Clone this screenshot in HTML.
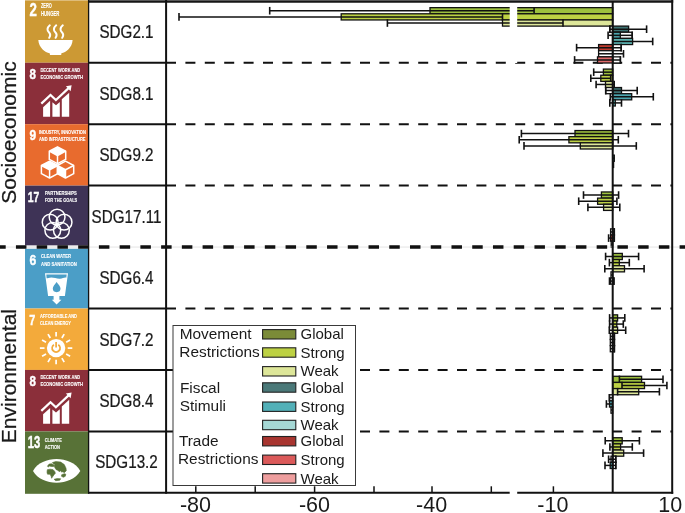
<!DOCTYPE html>
<html><head><meta charset="utf-8"><style>
html,body{margin:0;padding:0;background:#fff;}
svg{display:block;will-change:transform;}
text{font-family:"Liberation Sans",sans-serif;}
.d text{stroke:#1a1a1a;stroke-width:0.25px;}
</style></head><body>
<svg width="685" height="513" viewBox="0 0 685 513">
<rect width="685" height="513" fill="#fff"/><g fill="#1a1a1a">
<rect x="25" y="0.00" width="63" height="62.74" fill="#CC9934"/>
<rect x="25" y="0" width="63" height="0.7" fill="#fff" fill-opacity="0.5"/>
<g fill="#fff"><text x="29.47" y="15.80" font-size="18.59" font-weight="bold" textLength="7.37" lengthAdjust="spacingAndGlyphs" stroke="#fff" stroke-width="0.45">2</text><text x="40.96" y="7.90" font-size="6.62" font-weight="bold" textLength="10.88" lengthAdjust="spacingAndGlyphs" stroke="#fff" stroke-width="0.12">ZERO</text><text x="40.96" y="15.80" font-size="6.62" font-weight="bold" textLength="18.48" lengthAdjust="spacingAndGlyphs" stroke="#fff" stroke-width="0.12">HUNGER</text></g>
<g transform="translate(25 0.00)"><path d="M13.3 40 H47.6 C47.2 47.5 41 52.6 36.4 53.2 L36.2 55 H25 L24.7 53.2 C20 52.6 13.8 47.5 13.3 40 Z" fill="#fff"/><g fill="none" stroke="#fff" stroke-width="2" stroke-linecap="round"><path d="M24.8 25.3 C21.8 28 22.0 30.5 23.9 32.3 C25.7 34 25.4 36 24.2 37.8"/><path d="M31.200000000000003 25.3 C28.200000000000003 28 28.400000000000002 30.5 30.3 32.3 C32.1 34 31.8 36 30.6 37.8"/><path d="M37.800000000000004 25.3 C34.800000000000004 28 35.0 30.5 36.900000000000006 32.3 C38.7 34 38.400000000000006 36 37.2 37.8"/></g></g>
<rect x="25" y="62.74" width="63" height="61.44" fill="#8B2F3A"/>
<g fill="#fff"><text x="29.57" y="78.90" font-size="15.21" font-weight="bold" textLength="6.46" lengthAdjust="spacingAndGlyphs" stroke="#fff" stroke-width="0.45">8</text><text x="40.40" y="72.30" font-size="5.35" font-weight="bold" textLength="39.80" lengthAdjust="spacingAndGlyphs" stroke="#fff" stroke-width="0.12">DECENT WORK AND</text><text x="40.38" y="79.20" font-size="5.92" font-weight="bold" textLength="42.73" lengthAdjust="spacingAndGlyphs" stroke="#fff" stroke-width="0.12">ECONOMIC GROWTH</text></g>
<g transform="translate(25 62.74)"><g fill="#fff"><path d="M18.1 44.4 L25.1 38.1 V53.9 H18.1 Z"/><path d="M27.4 39.6 L31 42.6 L34.8 39.2 V53.9 H27.4 Z"/><path d="M36.8 36.6 L44.2 29.9 V53.9 H36.8 Z"/><path d="M40.9 23.6 L46.6 22.6 L45.6 28.4 Z"/></g><path d="M16.3 40.9 L25.5 32.2 L30.9 37.3 L43.6 25.4" fill="none" stroke="#fff" stroke-width="2.2"/></g>
<rect x="25" y="124.18" width="63" height="61.44" fill="#E86B2E"/>
<g fill="#fff"><text x="29.56" y="140.40" font-size="15.35" font-weight="bold" textLength="6.67" lengthAdjust="spacingAndGlyphs" stroke="#fff" stroke-width="0.45">9</text><text x="38.99" y="133.60" font-size="5.77" font-weight="bold" textLength="46.83" lengthAdjust="spacingAndGlyphs" stroke="#fff" stroke-width="0.12">INDUSTRY, INNOVATION</text><text x="38.98" y="140.60" font-size="6.06" font-weight="bold" textLength="46.44" lengthAdjust="spacingAndGlyphs" stroke="#fff" stroke-width="0.12">AND INFRASTRUCTURE</text></g>
<g transform="translate(25 124.18)"><polygon points="32.50,22.70 40.70,27.00 32.50,31.30 24.30,27.00" fill="#fff"/><polygon points="24.60,37.00 32.80,41.30 24.60,45.60 16.40,41.30" fill="#fff"/><polygon points="32.30,41.30 40.50,45.60 40.50,53.80 32.30,49.50" fill="#fff"/><g fill="none" stroke="#fff" stroke-width="1.5" stroke-linejoin="round"><polygon points="32.50,22.70 40.70,27.00 40.70,35.20 32.50,39.50 24.30,35.20 24.30,27.00"/><polyline points="24.30,27.00 32.50,31.30 40.70,27.00"/><polyline points="32.50,31.30 32.50,39.50"/><polygon points="24.60,37.00 32.80,41.30 32.80,49.50 24.60,53.80 16.40,49.50 16.40,41.30"/><polyline points="16.40,41.30 24.60,45.60 32.80,41.30"/><polyline points="24.60,45.60 24.60,53.80"/><polygon points="40.50,37.00 48.70,41.30 48.70,49.50 40.50,53.80 32.30,49.50 32.30,41.30"/><polyline points="32.30,41.30 40.50,45.60 48.70,41.30"/><polyline points="40.50,45.60 40.50,53.80"/></g></g>
<rect x="25" y="185.62" width="63" height="61.44" fill="#3E3356"/>
<g fill="#fff"><text x="27.77" y="201.90" font-size="15.21" font-weight="bold" textLength="11.56" lengthAdjust="spacingAndGlyphs" stroke="#fff" stroke-width="0.45">17</text><text x="44.89" y="195.30" font-size="5.63" font-weight="bold" textLength="31.92" lengthAdjust="spacingAndGlyphs" stroke="#fff" stroke-width="0.12">PARTNERSHIPS</text><text x="44.90" y="202.20" font-size="5.49" font-weight="bold" textLength="32.31" lengthAdjust="spacingAndGlyphs" stroke="#fff" stroke-width="0.12">FOR THE GOALS</text></g>
<g transform="translate(25 185.62)"><g fill="none" stroke="#fff" stroke-width="1.5"><circle cx="32.10" cy="31.50" r="7.9"/><circle cx="39.04" cy="36.54" r="7.9"/><circle cx="36.39" cy="44.71" r="7.9"/><circle cx="27.81" cy="44.71" r="7.9"/><circle cx="25.16" cy="36.54" r="7.9"/></g></g>
<rect x="25" y="247.06" width="63" height="61.44" fill="#4B9EC7"/>
<g fill="#fff"><text x="29.57" y="264.80" font-size="15.21" font-weight="bold" textLength="6.76" lengthAdjust="spacingAndGlyphs" stroke="#fff" stroke-width="0.45">6</text><text x="41.09" y="258.20" font-size="5.63" font-weight="bold" textLength="29.82" lengthAdjust="spacingAndGlyphs" stroke="#fff" stroke-width="0.12">CLEAN WATER</text><text x="41.08" y="265.70" font-size="5.92" font-weight="bold" textLength="35.73" lengthAdjust="spacingAndGlyphs" stroke="#fff" stroke-width="0.12">AND SANITATION</text></g>
<g transform="translate(25 247.36)"><path d="M20 26 H43 L39.9 48.6 H34.4 V52.5 H36.4 L31.6 57.2 L26.8 52.5 H28.6 V48.6 H23.1 Z" fill="#fff"/><path d="M21.3 27.1 H41.7 L41.3 30.3 C39 29.8 37.5 31.6 34.5 31.4 C31.5 31.2 29 30.1 26.3 30.1 C24 30.1 22.8 31 21.6 31 Z" fill="#4B9EC7"/><path d="M31.6 34.6 C30 37 27.8 39 27.8 41 A3.85 3.85 0 0 0 35.5 41 C35.5 39 33.2 37 31.6 34.6 Z" fill="#4B9EC7"/></g>
<rect x="25" y="308.50" width="63" height="61.44" fill="#F3AA3B"/>
<g fill="#fff"><text x="29.17" y="324.90" font-size="15.21" font-weight="bold" textLength="6.06" lengthAdjust="spacingAndGlyphs" stroke="#fff" stroke-width="0.45">7</text><text x="39.90" y="318.00" font-size="5.21" font-weight="bold" textLength="37.09" lengthAdjust="spacingAndGlyphs" stroke="#fff" stroke-width="0.12">AFFORDABLE AND</text><text x="39.91" y="324.90" font-size="5.07" font-weight="bold" textLength="30.98" lengthAdjust="spacingAndGlyphs" stroke="#fff" stroke-width="0.12">CLEAN ENERGY</text></g>
<g transform="translate(25 308.50)"><g transform="translate(31.1 39.6)"><circle r="9.2" fill="#fff"/><path d="M-2.2 -3.4 A4.0 4.0 0 1 0 2.2 -3.4" fill="none" stroke="#F3AA3B" stroke-width="1.7"/><line x1="0" y1="-6.2" x2="0" y2="-0.6" stroke="#F3AA3B" stroke-width="1.7"/><g stroke="#fff" stroke-width="1.7"><line x1="0.00" y1="-11.60" x2="0.00" y2="-16.20"/><line x1="5.80" y1="-10.05" x2="8.10" y2="-14.03"/><line x1="10.05" y1="-5.80" x2="14.03" y2="-8.10"/><line x1="11.60" y1="-0.00" x2="16.20" y2="-0.00"/><line x1="10.05" y1="5.80" x2="14.03" y2="8.10"/><line x1="5.80" y1="10.05" x2="8.10" y2="14.03"/><line x1="0.00" y1="11.60" x2="0.00" y2="16.20"/><line x1="-5.80" y1="10.05" x2="-8.10" y2="14.03"/><line x1="-10.05" y1="5.80" x2="-14.03" y2="8.10"/><line x1="-11.60" y1="0.00" x2="-16.20" y2="0.00"/><line x1="-10.05" y1="-5.80" x2="-14.03" y2="-8.10"/><line x1="-5.80" y1="-10.05" x2="-8.10" y2="-14.03"/></g></g></g>
<rect x="25" y="369.94" width="63" height="61.44" fill="#8B2F3A"/>
<g fill="#fff"><text x="29.57" y="385.90" font-size="15.21" font-weight="bold" textLength="6.46" lengthAdjust="spacingAndGlyphs" stroke="#fff" stroke-width="0.45">8</text><text x="40.39" y="379.30" font-size="5.63" font-weight="bold" textLength="39.82" lengthAdjust="spacingAndGlyphs" stroke="#fff" stroke-width="0.12">DECENT WORK AND</text><text x="40.38" y="386.20" font-size="5.92" font-weight="bold" textLength="42.73" lengthAdjust="spacingAndGlyphs" stroke="#fff" stroke-width="0.12">ECONOMIC GROWTH</text></g>
<g transform="translate(25 369.94)"><g fill="#fff"><path d="M18.1 44.4 L25.1 38.1 V53.9 H18.1 Z"/><path d="M27.4 39.6 L31 42.6 L34.8 39.2 V53.9 H27.4 Z"/><path d="M36.8 36.6 L44.2 29.9 V53.9 H36.8 Z"/><path d="M40.9 23.6 L46.6 22.6 L45.6 28.4 Z"/></g><path d="M16.3 40.9 L25.5 32.2 L30.9 37.3 L43.6 25.4" fill="none" stroke="#fff" stroke-width="2.2"/></g>
<rect x="25" y="431.38" width="63" height="62.42" fill="#587237"/>
<g fill="#fff"><text x="27.75" y="448.40" font-size="15.92" font-weight="bold" textLength="12.50" lengthAdjust="spacingAndGlyphs" stroke="#fff" stroke-width="0.45">13</text><text x="44.69" y="441.60" font-size="5.77" font-weight="bold" textLength="17.13" lengthAdjust="spacingAndGlyphs" stroke="#fff" stroke-width="0.12">CLIMATE</text><text x="44.68" y="448.60" font-size="6.06" font-weight="bold" textLength="15.34" lengthAdjust="spacingAndGlyphs" stroke="#fff" stroke-width="0.12">ACTION</text></g>
<g transform="translate(25 431.38)"><path d="M8 39.5 C17 23.8 46 23.8 55.3 39.5 C46 55.2 17 55.2 8 39.5 Z" fill="#fff"/><g fill="#587237"><polygon points="27.4,31.2 30.7,30.2 35.7,30.7 39.3,33.2 41.0,36.8 41.3,39.3 39.3,41.3 37.8,40.3 36.7,40.8 35.7,39.3 34.2,40.3 32.7,38.8 31.2,38.3 30.2,36.8 29.1,34.7 29.9,33.2 28.1,32.2" stroke="#587237" stroke-width="0.6" stroke-linejoin="round"/><polygon points="24.1,32.7 26.6,32.4 29.1,33.7 28.6,35.2 26.1,35.0 24.6,34.7 23.1,35.7 22.5,34.7" stroke="#587237" stroke-width="0.6" stroke-linejoin="round"/><polygon points="22.3,38.3 25.1,37.8 28.1,38.3 29.6,39.8 30.4,41.8 29.1,43.3 27.6,45.4 26.6,46.9 26.1,44.9 25.1,42.8 22.5,42.8 22.0,40.8" stroke="#587237" stroke-width="0.6" stroke-linejoin="round"/><polygon points="36.7,43.3 39.3,42.3 40.8,42.8 40.3,44.9 38.3,45.9 36.5,44.9" stroke="#587237" stroke-width="0.6" stroke-linejoin="round"/><polygon points="29.1,47.9 32.2,47.2 35.7,47.4 34.7,48.9 30.7,49.3" stroke="#587237" stroke-width="0.6" stroke-linejoin="round"/></g></g>
<g class="d"><text transform="translate(15.8 132.5) rotate(-90)" font-size="21" text-anchor="middle">Socioeconomic</text>
<text transform="translate(15.7 376.1) rotate(-90)" font-size="21" text-anchor="middle">Environmental</text>
<text x="126.5" y="38.4" font-size="18" text-anchor="middle" transform="translate(126.5 0) scale(0.845 1) translate(-126.5 0)">SDG2.1</text>
<text x="126.5" y="99.9" font-size="18" text-anchor="middle" transform="translate(126.5 0) scale(0.845 1) translate(-126.5 0)">SDG8.1</text>
<text x="126.5" y="161.3" font-size="18" text-anchor="middle" transform="translate(126.5 0) scale(0.845 1) translate(-126.5 0)">SDG9.2</text>
<text x="126.5" y="222.7" font-size="18" text-anchor="middle" transform="translate(126.5 0) scale(0.845 1) translate(-126.5 0)">SDG17.11</text>
<text x="126.5" y="284.2" font-size="18" text-anchor="middle" transform="translate(126.5 0) scale(0.845 1) translate(-126.5 0)">SDG6.4</text>
<text x="126.5" y="345.6" font-size="18" text-anchor="middle" transform="translate(126.5 0) scale(0.845 1) translate(-126.5 0)">SDG7.2</text>
<text x="126.5" y="407.1" font-size="18" text-anchor="middle" transform="translate(126.5 0) scale(0.845 1) translate(-126.5 0)">SDG8.4</text>
<text x="126.5" y="468.5" font-size="18" text-anchor="middle" transform="translate(126.5 0) scale(0.845 1) translate(-126.5 0)">SDG13.2</text></g>
<line x1="88" y1="62.74" x2="166" y2="62.74" stroke="#111" stroke-width="2"/>
<line x1="166" y1="62.74" x2="672" y2="62.74" stroke="#111" stroke-width="2" stroke-dasharray="10 9.4"/>
<line x1="88" y1="124.18" x2="166" y2="124.18" stroke="#111" stroke-width="2"/>
<line x1="166" y1="124.18" x2="672" y2="124.18" stroke="#111" stroke-width="2" stroke-dasharray="10 9.4"/>
<line x1="88" y1="185.62" x2="166" y2="185.62" stroke="#111" stroke-width="2"/>
<line x1="166" y1="185.62" x2="672" y2="185.62" stroke="#111" stroke-width="2" stroke-dasharray="10 9.4"/>
<line x1="88" y1="308.50" x2="166" y2="308.50" stroke="#111" stroke-width="2"/>
<line x1="166" y1="308.50" x2="672" y2="308.50" stroke="#111" stroke-width="2" stroke-dasharray="10 9.4"/>
<line x1="88" y1="369.94" x2="166" y2="369.94" stroke="#111" stroke-width="2"/>
<line x1="166" y1="369.94" x2="672" y2="369.94" stroke="#111" stroke-width="2" stroke-dasharray="10 9.4"/>
<line x1="88" y1="431.38" x2="166" y2="431.38" stroke="#111" stroke-width="2"/>
<line x1="166" y1="431.38" x2="672" y2="431.38" stroke="#111" stroke-width="2" stroke-dasharray="10 9.4"/>
<rect x="430.00" y="7.65" width="182.70" height="6.15" fill="#9DC03E" stroke="#111" stroke-width="1.3"/>
<line x1="269.70" y1="10.72" x2="534.10" y2="10.72" stroke="#111" stroke-width="1.5"/>
<line x1="269.70" y1="6.92" x2="269.70" y2="14.52" stroke="#111" stroke-width="1.6"/>
<line x1="534.10" y1="6.92" x2="534.10" y2="14.52" stroke="#111" stroke-width="1.6"/>
<rect x="341.20" y="13.80" width="271.50" height="6.15" fill="#BDD143" stroke="#111" stroke-width="1.3"/>
<line x1="179.00" y1="16.88" x2="502.50" y2="16.88" stroke="#111" stroke-width="1.5"/>
<line x1="179.00" y1="13.07" x2="179.00" y2="20.68" stroke="#111" stroke-width="1.6"/>
<line x1="502.50" y1="13.07" x2="502.50" y2="20.68" stroke="#111" stroke-width="1.6"/>
<rect x="502.50" y="19.95" width="110.20" height="6.15" fill="#DDE699" stroke="#111" stroke-width="1.3"/>
<line x1="387.40" y1="23.02" x2="563.00" y2="23.02" stroke="#111" stroke-width="1.5"/>
<line x1="387.40" y1="19.22" x2="387.40" y2="26.82" stroke="#111" stroke-width="1.6"/>
<line x1="563.00" y1="19.22" x2="563.00" y2="26.82" stroke="#111" stroke-width="1.6"/>
<rect x="609.80" y="26.10" width="2.90" height="6.15" fill="#fff" stroke="#111" stroke-width="1.3"/>
<rect x="612.70" y="26.10" width="15.90" height="6.15" fill="#3D7272" stroke="#111" stroke-width="1.3"/>
<line x1="609.80" y1="29.18" x2="646.60" y2="29.18" stroke="#111" stroke-width="1.5"/>
<line x1="609.80" y1="25.38" x2="609.80" y2="32.98" stroke="#111" stroke-width="1.6"/>
<line x1="646.60" y1="25.38" x2="646.60" y2="32.98" stroke="#111" stroke-width="1.6"/>
<rect x="612.70" y="32.25" width="19.50" height="6.15" fill="#fff" stroke="#111" stroke-width="1.3"/>
<rect x="612.70" y="32.25" width="7.60" height="6.15" fill="#4BA5AE" stroke="#111" stroke-width="1.3"/>
<line x1="608.10" y1="35.33" x2="632.20" y2="35.33" stroke="#111" stroke-width="1.5"/>
<line x1="608.10" y1="31.53" x2="608.10" y2="39.12" stroke="#111" stroke-width="1.6"/>
<line x1="632.20" y1="31.53" x2="632.20" y2="39.12" stroke="#111" stroke-width="1.6"/>
<rect x="612.70" y="38.40" width="19.90" height="6.15" fill="#5EBAB8" stroke="#111" stroke-width="1.3"/>
<line x1="612.70" y1="41.48" x2="652.70" y2="41.48" stroke="#111" stroke-width="1.5"/>
<line x1="652.70" y1="37.68" x2="652.70" y2="45.27" stroke="#111" stroke-width="1.6"/>
<rect x="612.70" y="44.55" width="8.50" height="6.15" fill="#fff" stroke="#111" stroke-width="1.3"/>
<rect x="598.60" y="44.55" width="14.10" height="6.15" fill="#BE3A2E" stroke="#111" stroke-width="1.3"/>
<line x1="576.60" y1="47.63" x2="621.20" y2="47.63" stroke="#111" stroke-width="1.5"/>
<line x1="576.60" y1="43.83" x2="576.60" y2="51.43" stroke="#111" stroke-width="1.6"/>
<line x1="621.20" y1="43.83" x2="621.20" y2="51.43" stroke="#111" stroke-width="1.6"/>
<rect x="598.60" y="50.70" width="14.10" height="6.15" fill="#FFFFFF" stroke="#111" stroke-width="1.3"/>
<line x1="598.60" y1="53.78" x2="623.50" y2="53.78" stroke="#111" stroke-width="1.5"/>
<line x1="623.50" y1="49.98" x2="623.50" y2="57.58" stroke="#111" stroke-width="1.6"/>
<rect x="612.70" y="56.85" width="7.70" height="6.15" fill="#fff" stroke="#111" stroke-width="1.3"/>
<rect x="597.50" y="56.85" width="15.20" height="6.15" fill="#E06B6B" stroke="#111" stroke-width="1.3"/>
<line x1="574.60" y1="59.93" x2="620.40" y2="59.93" stroke="#111" stroke-width="1.5"/>
<line x1="574.60" y1="56.13" x2="574.60" y2="63.73" stroke="#111" stroke-width="1.6"/>
<line x1="620.40" y1="56.13" x2="620.40" y2="63.73" stroke="#111" stroke-width="1.6"/>
<rect x="603.40" y="69.09" width="9.30" height="6.15" fill="#9DC03E" stroke="#111" stroke-width="1.3"/>
<line x1="593.70" y1="72.16" x2="612.70" y2="72.16" stroke="#111" stroke-width="1.5"/>
<line x1="593.70" y1="68.36" x2="593.70" y2="75.96" stroke="#111" stroke-width="1.6"/>
<rect x="600.80" y="75.24" width="11.90" height="6.15" fill="#BDD143" stroke="#111" stroke-width="1.3"/>
<line x1="590.80" y1="78.31" x2="610.70" y2="78.31" stroke="#111" stroke-width="1.5"/>
<line x1="590.80" y1="74.52" x2="590.80" y2="82.11" stroke="#111" stroke-width="1.6"/>
<line x1="610.70" y1="74.52" x2="610.70" y2="82.11" stroke="#111" stroke-width="1.6"/>
<rect x="605.50" y="81.39" width="7.20" height="6.15" fill="#DDE699" stroke="#111" stroke-width="1.3"/>
<line x1="596.10" y1="84.46" x2="614.20" y2="84.46" stroke="#111" stroke-width="1.5"/>
<line x1="596.10" y1="80.66" x2="596.10" y2="88.26" stroke="#111" stroke-width="1.6"/>
<line x1="614.20" y1="80.66" x2="614.20" y2="88.26" stroke="#111" stroke-width="1.6"/>
<rect x="605.70" y="87.54" width="7.00" height="6.15" fill="#fff" stroke="#111" stroke-width="1.3"/>
<rect x="612.70" y="87.54" width="8.80" height="6.15" fill="#3D7272" stroke="#111" stroke-width="1.3"/>
<line x1="605.70" y1="90.61" x2="637.20" y2="90.61" stroke="#111" stroke-width="1.5"/>
<line x1="605.70" y1="86.81" x2="605.70" y2="94.41" stroke="#111" stroke-width="1.6"/>
<line x1="637.20" y1="86.81" x2="637.20" y2="94.41" stroke="#111" stroke-width="1.6"/>
<rect x="612.70" y="93.69" width="19.00" height="6.15" fill="#4BA5AE" stroke="#111" stroke-width="1.3"/>
<line x1="610.30" y1="96.77" x2="653.30" y2="96.77" stroke="#111" stroke-width="1.5"/>
<line x1="610.30" y1="92.97" x2="610.30" y2="100.56" stroke="#111" stroke-width="1.6"/>
<line x1="653.30" y1="92.97" x2="653.30" y2="100.56" stroke="#111" stroke-width="1.6"/>
<rect x="612.70" y="99.84" width="2.60" height="6.15" fill="#5EBAB8" stroke="#111" stroke-width="1.3"/>
<line x1="609.80" y1="102.91" x2="621.50" y2="102.91" stroke="#111" stroke-width="1.5"/>
<line x1="609.80" y1="99.11" x2="609.80" y2="106.71" stroke="#111" stroke-width="1.6"/>
<line x1="621.50" y1="99.11" x2="621.50" y2="106.71" stroke="#111" stroke-width="1.6"/>
<rect x="575.00" y="130.53" width="37.70" height="6.15" fill="#9DC03E" stroke="#111" stroke-width="1.3"/>
<line x1="521.40" y1="133.60" x2="628.50" y2="133.60" stroke="#111" stroke-width="1.5"/>
<line x1="521.40" y1="129.80" x2="521.40" y2="137.41" stroke="#111" stroke-width="1.6"/>
<line x1="628.50" y1="129.80" x2="628.50" y2="137.41" stroke="#111" stroke-width="1.6"/>
<rect x="568.90" y="136.68" width="43.80" height="6.15" fill="#BDD143" stroke="#111" stroke-width="1.3"/>
<line x1="519.20" y1="139.75" x2="618.30" y2="139.75" stroke="#111" stroke-width="1.5"/>
<line x1="519.20" y1="135.95" x2="519.20" y2="143.56" stroke="#111" stroke-width="1.6"/>
<line x1="618.30" y1="135.95" x2="618.30" y2="143.56" stroke="#111" stroke-width="1.6"/>
<rect x="580.30" y="142.83" width="32.40" height="6.15" fill="#DDE699" stroke="#111" stroke-width="1.3"/>
<line x1="524.00" y1="145.91" x2="636.30" y2="145.91" stroke="#111" stroke-width="1.5"/>
<line x1="524.00" y1="142.10" x2="524.00" y2="149.71" stroke="#111" stroke-width="1.6"/>
<line x1="636.30" y1="142.10" x2="636.30" y2="149.71" stroke="#111" stroke-width="1.6"/>
<rect x="601.40" y="191.97" width="11.30" height="6.15" fill="#9DC03E" stroke="#111" stroke-width="1.3"/>
<line x1="583.50" y1="195.04" x2="618.60" y2="195.04" stroke="#111" stroke-width="1.5"/>
<line x1="583.50" y1="191.24" x2="583.50" y2="198.84" stroke="#111" stroke-width="1.6"/>
<line x1="618.60" y1="191.24" x2="618.60" y2="198.84" stroke="#111" stroke-width="1.6"/>
<rect x="597.60" y="198.12" width="15.10" height="6.15" fill="#BDD143" stroke="#111" stroke-width="1.3"/>
<line x1="578.70" y1="201.19" x2="616.90" y2="201.19" stroke="#111" stroke-width="1.5"/>
<line x1="578.70" y1="197.39" x2="578.70" y2="205.00" stroke="#111" stroke-width="1.6"/>
<line x1="616.90" y1="197.39" x2="616.90" y2="205.00" stroke="#111" stroke-width="1.6"/>
<rect x="603.60" y="204.27" width="9.10" height="6.15" fill="#DDE699" stroke="#111" stroke-width="1.3"/>
<line x1="587.90" y1="207.34" x2="619.80" y2="207.34" stroke="#111" stroke-width="1.5"/>
<line x1="587.90" y1="203.54" x2="587.90" y2="211.15" stroke="#111" stroke-width="1.6"/>
<line x1="619.80" y1="203.54" x2="619.80" y2="211.15" stroke="#111" stroke-width="1.6"/>
<rect x="612.70" y="253.41" width="9.60" height="6.15" fill="#9DC03E" stroke="#111" stroke-width="1.3"/>
<line x1="605.60" y1="256.49" x2="638.60" y2="256.49" stroke="#111" stroke-width="1.5"/>
<line x1="605.60" y1="252.69" x2="605.60" y2="260.29" stroke="#111" stroke-width="1.6"/>
<line x1="638.60" y1="252.69" x2="638.60" y2="260.29" stroke="#111" stroke-width="1.6"/>
<rect x="612.70" y="259.56" width="6.60" height="6.15" fill="#BDD143" stroke="#111" stroke-width="1.3"/>
<line x1="609.40" y1="262.63" x2="629.30" y2="262.63" stroke="#111" stroke-width="1.5"/>
<line x1="609.40" y1="258.83" x2="609.40" y2="266.44" stroke="#111" stroke-width="1.6"/>
<line x1="629.30" y1="258.83" x2="629.30" y2="266.44" stroke="#111" stroke-width="1.6"/>
<rect x="612.70" y="265.71" width="11.80" height="6.15" fill="#DDE699" stroke="#111" stroke-width="1.3"/>
<line x1="604.80" y1="268.78" x2="644.10" y2="268.78" stroke="#111" stroke-width="1.5"/>
<line x1="604.80" y1="264.98" x2="604.80" y2="272.58" stroke="#111" stroke-width="1.6"/>
<line x1="644.10" y1="264.98" x2="644.10" y2="272.58" stroke="#111" stroke-width="1.6"/>
<rect x="612.70" y="314.85" width="4.90" height="6.15" fill="#9DC03E" stroke="#111" stroke-width="1.3"/>
<line x1="609.60" y1="317.93" x2="624.80" y2="317.93" stroke="#111" stroke-width="1.5"/>
<line x1="609.60" y1="314.12" x2="609.60" y2="321.73" stroke="#111" stroke-width="1.6"/>
<line x1="624.80" y1="314.12" x2="624.80" y2="321.73" stroke="#111" stroke-width="1.6"/>
<rect x="612.70" y="321.00" width="4.10" height="6.15" fill="#BDD143" stroke="#111" stroke-width="1.3"/>
<line x1="609.60" y1="324.07" x2="623.30" y2="324.07" stroke="#111" stroke-width="1.5"/>
<line x1="609.60" y1="320.27" x2="609.60" y2="327.88" stroke="#111" stroke-width="1.6"/>
<line x1="623.30" y1="320.27" x2="623.30" y2="327.88" stroke="#111" stroke-width="1.6"/>
<rect x="612.70" y="327.15" width="4.90" height="6.15" fill="#DDE699" stroke="#111" stroke-width="1.3"/>
<line x1="609.30" y1="330.23" x2="625.70" y2="330.23" stroke="#111" stroke-width="1.5"/>
<line x1="609.30" y1="326.43" x2="609.30" y2="334.03" stroke="#111" stroke-width="1.6"/>
<line x1="625.70" y1="326.43" x2="625.70" y2="334.03" stroke="#111" stroke-width="1.6"/>
<rect x="612.70" y="376.29" width="28.90" height="6.15" fill="#9DC03E" stroke="#111" stroke-width="1.3"/>
<line x1="619.40" y1="379.37" x2="663.00" y2="379.37" stroke="#111" stroke-width="1.5"/>
<line x1="619.40" y1="375.56" x2="619.40" y2="383.17" stroke="#111" stroke-width="1.6"/>
<line x1="663.00" y1="375.56" x2="663.00" y2="383.17" stroke="#111" stroke-width="1.6"/>
<rect x="612.70" y="382.44" width="31.80" height="6.15" fill="#BDD143" stroke="#111" stroke-width="1.3"/>
<line x1="622.00" y1="385.51" x2="666.90" y2="385.51" stroke="#111" stroke-width="1.5"/>
<line x1="622.00" y1="381.71" x2="622.00" y2="389.31" stroke="#111" stroke-width="1.6"/>
<line x1="666.90" y1="381.71" x2="666.90" y2="389.31" stroke="#111" stroke-width="1.6"/>
<rect x="612.70" y="388.59" width="26.00" height="6.15" fill="#DDE699" stroke="#111" stroke-width="1.3"/>
<line x1="617.60" y1="391.67" x2="659.40" y2="391.67" stroke="#111" stroke-width="1.5"/>
<line x1="617.60" y1="387.87" x2="617.60" y2="395.47" stroke="#111" stroke-width="1.6"/>
<line x1="659.40" y1="387.87" x2="659.40" y2="395.47" stroke="#111" stroke-width="1.6"/>
<rect x="609.60" y="394.74" width="3.10" height="6.15" fill="#FFFFFF" stroke="#111" stroke-width="1.3"/>
<line x1="609.30" y1="397.81" x2="612.70" y2="397.81" stroke="#111" stroke-width="1.5"/>
<line x1="609.30" y1="394.01" x2="609.30" y2="401.62" stroke="#111" stroke-width="1.6"/>
<rect x="609.50" y="400.89" width="3.20" height="6.15" fill="#4BA5AE" stroke="#111" stroke-width="1.3"/>
<line x1="606.40" y1="403.97" x2="612.70" y2="403.97" stroke="#111" stroke-width="1.5"/>
<line x1="606.40" y1="400.17" x2="606.40" y2="407.77" stroke="#111" stroke-width="1.6"/>
<rect x="612.70" y="437.73" width="9.50" height="6.15" fill="#9DC03E" stroke="#111" stroke-width="1.3"/>
<line x1="605.20" y1="440.81" x2="639.40" y2="440.81" stroke="#111" stroke-width="1.5"/>
<line x1="605.20" y1="437.00" x2="605.20" y2="444.61" stroke="#111" stroke-width="1.6"/>
<line x1="639.40" y1="437.00" x2="639.40" y2="444.61" stroke="#111" stroke-width="1.6"/>
<rect x="612.70" y="443.88" width="7.90" height="6.15" fill="#BDD143" stroke="#111" stroke-width="1.3"/>
<line x1="609.90" y1="446.95" x2="632.30" y2="446.95" stroke="#111" stroke-width="1.5"/>
<line x1="609.90" y1="443.15" x2="609.90" y2="450.75" stroke="#111" stroke-width="1.6"/>
<line x1="632.30" y1="443.15" x2="632.30" y2="450.75" stroke="#111" stroke-width="1.6"/>
<rect x="612.70" y="450.03" width="11.00" height="6.15" fill="#DDE699" stroke="#111" stroke-width="1.3"/>
<line x1="602.90" y1="453.11" x2="643.60" y2="453.11" stroke="#111" stroke-width="1.5"/>
<line x1="602.90" y1="449.31" x2="602.90" y2="456.91" stroke="#111" stroke-width="1.6"/>
<line x1="643.60" y1="449.31" x2="643.60" y2="456.91" stroke="#111" stroke-width="1.6"/>
<rect x="612.70" y="456.18" width="3.10" height="6.15" fill="#fff" stroke="#111" stroke-width="1.3"/>
<rect x="611.00" y="456.18" width="1.70" height="6.15" fill="#FFFFFF" stroke="#111" stroke-width="1.3"/>
<line x1="608.60" y1="459.25" x2="615.80" y2="459.25" stroke="#111" stroke-width="1.5"/>
<line x1="608.60" y1="455.45" x2="608.60" y2="463.06" stroke="#111" stroke-width="1.6"/>
<line x1="615.80" y1="455.45" x2="615.80" y2="463.06" stroke="#111" stroke-width="1.6"/>
<rect x="612.70" y="462.33" width="3.10" height="6.15" fill="#fff" stroke="#111" stroke-width="1.3"/>
<rect x="610.20" y="462.33" width="2.50" height="6.15" fill="#4BA5AE" stroke="#111" stroke-width="1.3"/>
<line x1="605.00" y1="465.41" x2="615.80" y2="465.41" stroke="#111" stroke-width="1.5"/>
<line x1="605.00" y1="461.61" x2="605.00" y2="469.21" stroke="#111" stroke-width="1.6"/>
<line x1="615.80" y1="461.61" x2="615.80" y2="469.21" stroke="#111" stroke-width="1.6"/>
<rect x="612.70" y="155.13" width="1.60" height="6.15" fill="#4BA5AE" stroke="#111" stroke-width="1.3"/>
<line x1="612.70" y1="158.20" x2="614.30" y2="158.20" stroke="#111" stroke-width="1.5"/>
<rect x="612.70" y="161.28" width="0.90" height="6.15" fill="#FFFFFF" stroke="#111" stroke-width="1.3"/>
<line x1="612.70" y1="164.35" x2="613.60" y2="164.35" stroke="#111" stroke-width="1.5"/>
<rect x="612.70" y="228.87" width="1.60" height="6.15" fill="#fff" stroke="#111" stroke-width="1.3"/>
<rect x="610.60" y="228.87" width="2.10" height="6.15" fill="#FFFFFF" stroke="#111" stroke-width="1.3"/>
<line x1="610.60" y1="231.94" x2="614.30" y2="231.94" stroke="#111" stroke-width="1.5"/>
<line x1="614.30" y1="228.14" x2="614.30" y2="235.75" stroke="#111" stroke-width="1.6"/>
<rect x="612.70" y="235.02" width="1.60" height="6.15" fill="#fff" stroke="#111" stroke-width="1.3"/>
<rect x="610.60" y="235.02" width="2.10" height="6.15" fill="#BE3A2E" stroke="#111" stroke-width="1.3"/>
<line x1="608.60" y1="238.09" x2="614.30" y2="238.09" stroke="#111" stroke-width="1.5"/>
<line x1="608.60" y1="234.29" x2="608.60" y2="241.90" stroke="#111" stroke-width="1.6"/>
<line x1="614.30" y1="234.29" x2="614.30" y2="241.90" stroke="#111" stroke-width="1.6"/>
<rect x="611.20" y="241.17" width="1.50" height="6.15" fill="#FFFFFF" stroke="#111" stroke-width="1.3"/>
<line x1="611.20" y1="244.25" x2="612.70" y2="244.25" stroke="#111" stroke-width="1.5"/>
<rect x="611.00" y="271.86" width="1.70" height="6.15" fill="#FFFFFF" stroke="#111" stroke-width="1.3"/>
<line x1="611.00" y1="274.94" x2="612.70" y2="274.94" stroke="#111" stroke-width="1.5"/>
<rect x="612.70" y="278.01" width="1.20" height="6.15" fill="#fff" stroke="#111" stroke-width="1.3"/>
<rect x="610.60" y="278.01" width="2.10" height="6.15" fill="#FFFFFF" stroke="#111" stroke-width="1.3"/>
<line x1="609.50" y1="281.08" x2="613.90" y2="281.08" stroke="#111" stroke-width="1.5"/>
<line x1="609.50" y1="277.28" x2="609.50" y2="284.88" stroke="#111" stroke-width="1.6"/>
<line x1="613.90" y1="277.28" x2="613.90" y2="284.88" stroke="#111" stroke-width="1.6"/>
<rect x="612.70" y="333.30" width="1.70" height="6.15" fill="#fff" stroke="#111" stroke-width="1.3"/>
<rect x="610.30" y="333.30" width="2.40" height="6.15" fill="#FFFFFF" stroke="#111" stroke-width="1.3"/>
<line x1="610.30" y1="336.38" x2="614.40" y2="336.38" stroke="#111" stroke-width="1.5"/>
<line x1="614.40" y1="332.57" x2="614.40" y2="340.18" stroke="#111" stroke-width="1.6"/>
<rect x="612.70" y="339.45" width="1.70" height="6.15" fill="#fff" stroke="#111" stroke-width="1.3"/>
<rect x="610.30" y="339.45" width="2.40" height="6.15" fill="#FFFFFF" stroke="#111" stroke-width="1.3"/>
<line x1="610.30" y1="342.53" x2="614.40" y2="342.53" stroke="#111" stroke-width="1.5"/>
<line x1="614.40" y1="338.73" x2="614.40" y2="346.33" stroke="#111" stroke-width="1.6"/>
<rect x="612.70" y="345.60" width="1.70" height="6.15" fill="#fff" stroke="#111" stroke-width="1.3"/>
<rect x="610.30" y="345.60" width="2.40" height="6.15" fill="#FFFFFF" stroke="#111" stroke-width="1.3"/>
<line x1="610.30" y1="348.68" x2="614.40" y2="348.68" stroke="#111" stroke-width="1.5"/>
<line x1="614.40" y1="344.88" x2="614.40" y2="352.48" stroke="#111" stroke-width="1.6"/>
<rect x="611.00" y="407.04" width="1.70" height="6.15" fill="#FFFFFF" stroke="#111" stroke-width="1.3"/>
<line x1="611.00" y1="410.12" x2="612.70" y2="410.12" stroke="#111" stroke-width="1.5"/>
<rect x="509.7" y="3" width="7.500000000000057" height="60" fill="#fff"/>
<rect x="25" y="245.31" width="63.5" height="3.5" fill="#f4f4f4"/><line x1="0" y1="247.06" x2="685" y2="247.06" stroke="#ddd" stroke-width="0.8"/><line x1="-4.8" y1="247.06" x2="690" y2="247.06" stroke="#111" stroke-width="3.4" stroke-dasharray="10.5 10.24"/>
<rect x="88" y="0" width="585.2" height="1" fill="#707070"/><line x1="88" y1="1.75" x2="673.2" y2="1.75" stroke="#151515" stroke-width="1.8"/>
<line x1="88" y1="492.8" x2="509.7" y2="492.8" stroke="#111" stroke-width="2"/>
<line x1="517.2" y1="492.8" x2="673.2" y2="492.8" stroke="#111" stroke-width="2"/>
<line x1="88.6" y1="0" x2="88.6" y2="493.8" stroke="#111" stroke-width="1.3"/>
<line x1="166.1" y1="0" x2="166.1" y2="493.8" stroke="#111" stroke-width="2"/>
<line x1="672.2" y1="0" x2="672.2" y2="493.8" stroke="#111" stroke-width="2"/>
<line x1="612.7" y1="1" x2="612.7" y2="492.8" stroke="#111" stroke-width="2"/>
<line x1="195.8" y1="486.3" x2="195.8" y2="492.8" stroke="#111" stroke-width="1.5"/>
<line x1="255.2" y1="486.3" x2="255.2" y2="492.8" stroke="#111" stroke-width="1.5"/>
<line x1="314.6" y1="486.3" x2="314.6" y2="492.8" stroke="#111" stroke-width="1.5"/>
<line x1="374.0" y1="486.3" x2="374.0" y2="492.8" stroke="#111" stroke-width="1.5"/>
<line x1="432.0" y1="486.3" x2="432.0" y2="492.8" stroke="#111" stroke-width="1.5"/>
<line x1="491.3" y1="486.3" x2="491.3" y2="492.8" stroke="#111" stroke-width="1.5"/>
<line x1="553.4" y1="486.3" x2="553.4" y2="492.8" stroke="#111" stroke-width="1.5"/>
<text x="195.5" y="511.9" font-size="21.5" text-anchor="middle">-80</text>
<text x="314.5" y="511.9" font-size="21.5" text-anchor="middle">-60</text>
<text x="431.6" y="511.9" font-size="21.5" text-anchor="middle">-40</text>
<text x="552.9" y="511.9" font-size="21.5" text-anchor="middle">-10</text>
<text x="670.3" y="511.9" font-size="21.5" text-anchor="middle">10</text>
<rect x="173.0" y="325.5" width="182.5" height="160" fill="#fff" stroke="#3a3a3a" stroke-width="1"/>
<rect x="262.6" y="329.6" width="33.2" height="9.4" fill="#7B8B38" stroke="#222" stroke-width="1.1"/>
<text x="300.5" y="339.4" font-size="15">Global</text>
<rect x="262.6" y="347.8" width="33.2" height="9.4" fill="#BDD143" stroke="#222" stroke-width="1.1"/>
<text x="300.5" y="357.6" font-size="15">Strong</text>
<rect x="262.6" y="366.6" width="33.2" height="9.4" fill="#DDE699" stroke="#222" stroke-width="1.1"/>
<text x="300.5" y="376.4" font-size="15">Weak</text>
<rect x="262.6" y="382.8" width="33.2" height="9.4" fill="#4A7878" stroke="#222" stroke-width="1.1"/>
<text x="300.5" y="392.6" font-size="15">Global</text>
<rect x="262.6" y="402.0" width="33.2" height="9.4" fill="#52B0B8" stroke="#222" stroke-width="1.1"/>
<text x="300.5" y="411.8" font-size="15">Strong</text>
<rect x="262.6" y="420.3" width="33.2" height="9.4" fill="#A5D8D5" stroke="#222" stroke-width="1.1"/>
<text x="300.5" y="430.1" font-size="15">Weak</text>
<rect x="262.6" y="436.5" width="33.2" height="9.4" fill="#A83530" stroke="#222" stroke-width="1.1"/>
<text x="300.5" y="446.3" font-size="15">Global</text>
<rect x="262.6" y="455.1" width="33.2" height="9.4" fill="#DB5A5A" stroke="#222" stroke-width="1.1"/>
<text x="300.5" y="464.9" font-size="15">Strong</text>
<rect x="262.6" y="473.7" width="33.2" height="9.4" fill="#EE9E9E" stroke="#222" stroke-width="1.1"/>
<text x="300.5" y="483.5" font-size="15">Weak</text>
<text x="179.7" y="338.8" font-size="15.4">Movement</text>
<text x="179.3" y="357.2" font-size="15.4">Restrictions</text>
<text x="179.9" y="392.5" font-size="15.4">Fiscal</text>
<text x="179.8" y="410.9" font-size="15.4">Stimuli</text>
<text x="178.9" y="445.8" font-size="15.4">Trade</text>
<text x="178.0" y="464.4" font-size="15.4">Restrictions</text>
</g>
</svg>
</body></html>
